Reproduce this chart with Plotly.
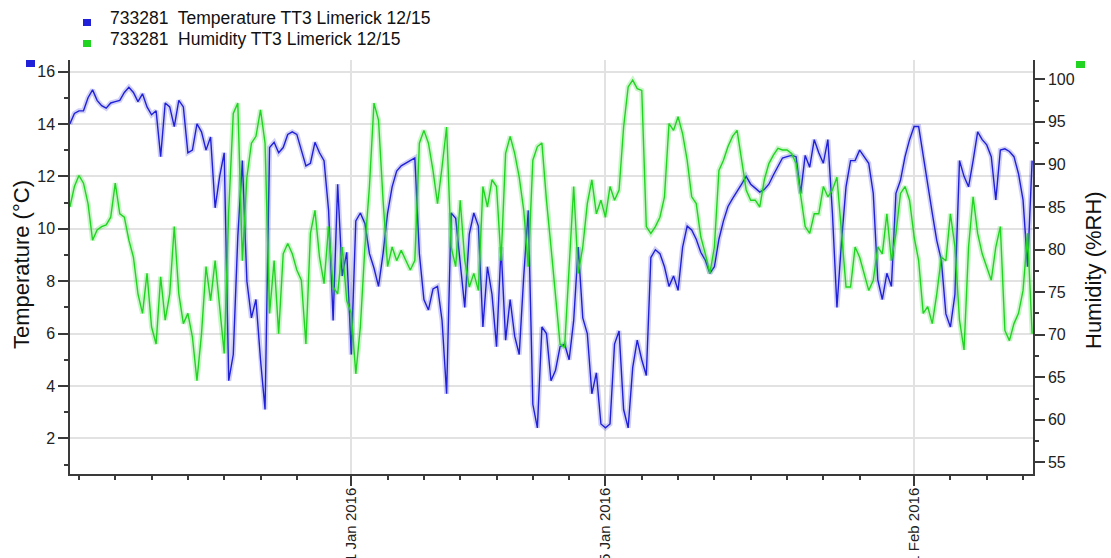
import pandas as pd
import plotly.graph_objects as go

# ---------------- data (6-hourly readings) ----------------
start_time = "2015-12-16 12:00"
sample_freq = "6h"

temperature = [
    14.0, 14.4, 14.5, 14.5, 15.0, 15.3, 14.9, 14.7, 14.6, 14.8,
    14.85, 14.9, 15.2, 15.4, 15.2, 14.85, 15.15, 14.65, 14.35, 14.5,
    12.75, 14.8, 14.65, 13.9, 14.9, 14.65, 12.9, 13.0, 14.0, 13.7,
    13.0, 13.5, 10.8, 12.0, 12.9, 4.2, 5.2, 9.7, 12.6, 8.0,
    6.6, 7.3, 5.0, 3.1, 13.1, 13.3, 12.9, 13.1, 13.6, 13.7,
    13.6, 13.0, 12.4, 12.5, 13.3, 12.9, 12.6, 10.7, 6.5, 11.7,
    8.2, 9.1, 5.2, 10.3, 10.6, 10.2, 9.05, 8.5, 7.8, 9.05,
    10.6, 11.6, 12.2, 12.4, 12.5, 12.6, 12.7, 9.05, 7.3, 6.9,
    7.7, 7.8, 6.5, 3.7, 10.6, 10.4, 8.55, 7.0, 9.8, 10.6,
    10.1, 6.25, 8.55, 7.5, 5.5, 9.3, 5.75, 7.3, 5.9, 5.2,
    8.2, 10.7, 3.3, 2.4, 6.25, 6.0, 4.2, 4.6, 5.5, 5.6,
    5.0, 6.5, 9.3, 6.6, 6.0, 3.7, 4.5, 2.55, 2.4, 2.55,
    5.6, 6.1, 3.1, 2.4, 4.7, 5.75, 5.0, 4.4, 8.9, 9.2,
    9.05, 8.55, 7.8, 8.2, 7.65, 9.3, 10.1, 9.95, 9.6, 9.1,
    8.8, 8.3, 8.55, 9.6, 10.3, 10.85, 11.15, 11.4, 11.7, 12.0,
    11.7, 11.55, 11.4, 11.5, 11.7, 12.05, 12.35, 12.7, 12.75, 12.8,
    12.75, 11.35, 12.8, 12.35, 13.4, 12.9, 12.5, 13.4, 10.6, 7.0,
    9.5, 11.6, 12.6, 12.6, 13.0, 12.75, 12.5, 11.35, 8.05, 7.3,
    8.3, 7.8, 11.35, 11.85, 12.75, 13.4, 13.9, 13.9, 12.75, 11.7,
    10.6, 9.55, 8.8, 6.75, 6.25, 7.5, 12.6, 12.0, 11.6, 12.6,
    13.7, 13.4, 13.2, 12.75, 11.1, 13.0, 13.05, 12.95, 12.75, 12.1,
    11.1, 8.55, 12.6,
]

humidity = [
    85.0, 87.4, 88.7, 87.8, 85.4, 81.1, 82.3, 82.7, 82.9, 83.8,
    87.8, 84.2, 83.8, 81.1, 79.1, 74.8, 72.5, 77.2, 70.9, 68.9,
    76.8, 71.7, 74.8, 82.7, 74.8, 71.3, 72.5, 69.7, 64.6, 70.1,
    78.0, 74.0, 78.7, 72.9, 67.8, 84.6, 96.0, 97.2, 78.7, 88.5,
    92.5, 93.3, 96.4, 92.5, 72.5, 78.7, 70.1, 79.5, 80.7, 79.5,
    77.6, 76.4, 68.9, 81.9, 84.6, 79.1, 76.0, 82.7, 75.6, 74.8,
    80.3, 74.0, 72.5, 65.4, 70.9, 80.3, 87.4, 97.2, 95.2, 85.8,
    78.0, 80.3, 78.7, 79.9, 78.7, 77.6, 78.7, 92.5, 94.0, 92.5,
    89.3, 85.4, 89.7, 94.4, 80.3, 78.0, 85.8, 78.7, 75.6, 77.2,
    75.2, 87.4, 85.0, 88.2, 87.4, 78.7, 91.3, 93.3, 91.3, 88.5,
    84.6, 78.0, 90.5, 92.1, 92.5, 85.8, 80.3, 74.8, 68.9, 68.5,
    78.7, 87.4, 77.2, 80.3, 85.4, 88.2, 84.2, 85.8, 83.8, 87.4,
    85.8, 87.0, 94.4, 99.1, 99.9, 98.9, 98.7, 82.7, 81.9, 82.7,
    83.8, 86.2, 94.8, 94.0, 95.6, 93.6, 90.5, 86.2, 85.4, 81.5,
    79.5, 77.2, 80.3, 89.3, 90.5, 92.1, 93.3, 94.0, 90.5, 87.0,
    85.8, 85.8, 85.0, 88.2, 90.1, 91.1, 91.9, 91.7, 91.7, 91.3,
    90.1, 86.6, 82.7, 81.9, 84.2, 84.2, 87.4, 86.2, 87.0, 88.5,
    82.0, 75.6, 75.6, 80.3, 79.1, 77.2, 75.2, 76.4, 80.3, 79.5,
    84.2, 78.7, 81.9, 86.6, 87.4, 85.8, 81.5, 78.7, 72.5, 73.3,
    71.3, 74.8, 79.1, 78.7, 84.2, 80.3, 71.7, 68.2, 80.3, 86.2,
    81.9, 79.5, 78.0, 76.4, 80.3, 82.7, 70.5, 69.3, 71.3, 72.5,
    75.2, 81.9, 70.1,
]

series_names = [
    "733281  Temperature TT3 Limerick 12/15",
    "733281  Humidity TT3 Limerick 12/15",
]
x_major_ticks = ["2016-01-01", "2016-01-15", "2016-02-01"]
x_major_labels = ["1 Jan 2016", "15 Jan 2016", "1 Feb 2016"]
x_minor_ticks = ([f"2015-12-{d:02d}" for d in range(17, 30, 2)]
                 + [f"2016-01-{d:02d}" for d in range(3, 30, 2)]
                 + [f"2016-02-{d:02d}" for d in range(3, 8, 2)])
temp_ticks = [2, 4, 6, 8, 10, 12, 14, 16]
hum_ticks = [55, 60, 65, 70, 75, 80, 85, 90, 95, 100]

times = pd.date_range(start_time, periods=len(temperature), freq=sample_freq)

# ---------------- styles ----------------
BLUE = "#2020d8"
GREEN = "#22d422"
BLUE_BAND = "rgba(40,40,215,0.22)"
GREEN_BAND = "rgba(40,215,40,0.25)"
AXIS = "#3a3a3a"
GRID = "#e2e2e2"
FONT = "Liberation Sans, Arial, sans-serif"

fig = go.Figure()

# light envelopes
fig.add_trace(go.Scatter(x=times, y=humidity, yaxis="y2", mode="lines",
                         line=dict(color=GREEN_BAND, width=5), showlegend=False, hoverinfo="skip"))
fig.add_trace(go.Scatter(x=times, y=temperature, yaxis="y", mode="lines",
                         line=dict(color=BLUE_BAND, width=5), showlegend=False, hoverinfo="skip"))
# main lines
fig.add_trace(go.Scatter(x=times, y=temperature, yaxis="y", mode="lines",
                         line=dict(color=BLUE, width=1.4), showlegend=False, name=series_names[0]))
fig.add_trace(go.Scatter(x=times, y=humidity, yaxis="y2", mode="lines",
                         line=dict(color=GREEN, width=1.4), showlegend=False, name=series_names[1]))


def px_x(p):
    return (p - 70) / 963.0


def px_y(p):
    return (474 - p) / 414.0


shapes = [
    # axis-marker squares
    dict(type="rect", xref="paper", yref="paper", x0=px_x(26), x1=px_x(35), y0=px_y(67), y1=px_y(60),
         fillcolor=BLUE, line=dict(width=0)),
    dict(type="rect", xref="paper", yref="paper", x0=px_x(1076), x1=px_x(1085), y0=px_y(68), y1=px_y(61),
         fillcolor=GREEN, line=dict(width=0)),
    # legend squares
    dict(type="rect", xref="paper", yref="paper", x0=px_x(83), x1=px_x(91), y0=px_y(26), y1=px_y(19),
         fillcolor=BLUE, line=dict(width=0)),
    dict(type="rect", xref="paper", yref="paper", x0=px_x(83), x1=px_x(91), y0=px_y(47), y1=px_y(40),
         fillcolor=GREEN, line=dict(width=0)),
]

annotations = [
    dict(text="Temperature (°C)", xref="paper", yref="paper", x=px_x(21), y=px_y(265),
         textangle=-90, showarrow=False, xanchor="center", yanchor="middle",
         font=dict(size=22, color="#111", family=FONT)),
    dict(text="Humidity (%RH)", xref="paper", yref="paper", x=px_x(1093), y=px_y(270),
         textangle=-90, showarrow=False, xanchor="center", yanchor="middle",
         font=dict(size=22, color="#111", family=FONT)),
    dict(text=series_names[0], xref="paper", yref="paper", x=px_x(108), y=px_y(18),
         showarrow=False, xanchor="left", yanchor="middle",
         font=dict(size=17.5, color="#111", family=FONT)),
    dict(text=series_names[1], xref="paper", yref="paper", x=px_x(108), y=px_y(39),
         showarrow=False, xanchor="left", yanchor="middle",
         font=dict(size=17.5, color="#111", family=FONT)),
]

fig.update_layout(
    width=1111, height=558,
    margin=dict(l=70, r=78, t=60, b=84, autoexpand=False),
    paper_bgcolor="white", plot_bgcolor="white",
    font=dict(family=FONT, size=16, color="#222"),
    shapes=shapes, annotations=annotations,
    showlegend=False,
    xaxis=dict(
        type="date", range=["2015-12-16 12:10", "2016-02-07 13:10"],
        tickmode="array", tickvals=x_major_ticks, ticktext=x_major_labels,
        tickangle=-90, ticks="outside", ticklen=10, tickwidth=1.5, tickcolor=AXIS,
        ticklabelstandoff=-4,
        showgrid=True, gridcolor=GRID, gridwidth=1.5,
        showline=True, linecolor=AXIS, linewidth=1.5, zeroline=False, automargin=False,
        tickfont=dict(size=15, color="#222"),
        minor=dict(tickmode="array", tickvals=x_minor_ticks, ticks="outside", ticklen=4,
                   tickwidth=1.5, tickcolor=AXIS, showgrid=False),
    ),
    yaxis=dict(
        range=[0.64, 16.44], tickmode="array", tickvals=temp_ticks,
        ticks="outside", ticklen=10, tickwidth=1.5, tickcolor=AXIS,
        showgrid=True, gridcolor=GRID, gridwidth=1.5,
        showline=True, linecolor=AXIS, linewidth=1.5, zeroline=False, automargin=False,
        tickfont=dict(size=16, color="#222"),
        minor=dict(dtick=1, tick0=0, ticks="outside", ticklen=4, tickwidth=1.5,
                   tickcolor=AXIS, showgrid=False),
    ),
    yaxis2=dict(
        range=[53.63, 102.27], overlaying="y", side="right", tickmode="array", tickvals=hum_ticks,
        ticks="outside", ticklen=10, tickwidth=1.5, tickcolor=AXIS,
        showgrid=False, showline=True, linecolor=AXIS, linewidth=1.5, zeroline=False,
        automargin=False, tickfont=dict(size=16, color="#222"),
        minor=dict(dtick=2.5, tick0=0, ticks="outside", ticklen=4, tickwidth=1.5,
                   tickcolor=AXIS, showgrid=False),
    ),
)

fig.write_html("out.html", config={"displayModeBar": False},
               post_script="document.body.style.margin='0';document.body.style.overflow='hidden';")
